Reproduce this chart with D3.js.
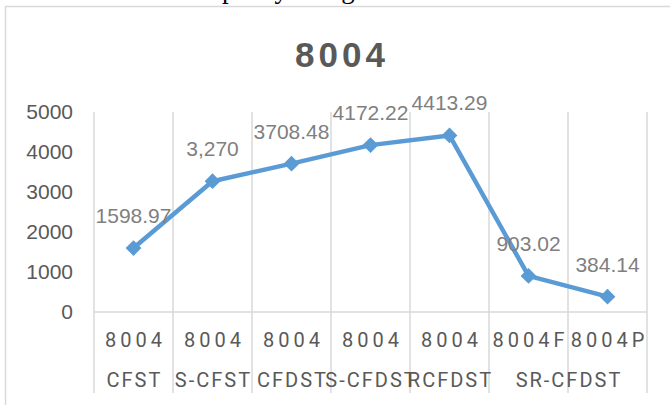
<!DOCTYPE html>
<html lang="en">
<head>
    <meta charset="UTF-8">
    <title>8004</title>
    <script src="https://d3js.org/d3.v7.min.js"></script>
    <style>
        body { margin: 0; background: #fff; }
        svg { display: block; }
        .grid line { stroke: #d9d9d9; stroke-width: 1.5px; }
        .y-axis text { font-family: "Liberation Sans", Arial, sans-serif; font-size: 21px; fill: #595959; }
        .cat text { font-family: Roboto, sans-serif; font-size: 20px; fill: #595959; }
        .cat text.l1 { letter-spacing: 4px; }
        .cat text.l2 { letter-spacing: 2px; }
        .labels text { font-family: "Liberation Sans", Arial, sans-serif; font-size: 21px; fill: #7f7f7f; }
    </style>
</head>
<body>
<svg width="670" height="405"></svg>
<script>
    // data
    var categories = ["8004 CFST", "8004 S-CFST", "8004 CFDST", "8004 S-CFDST", "8004 RCFDST", "8004F", "8004P"];
    var values = [1598.97, 3270, 3708.48, 4172.22, 4413.29, 903.02, 384.14];
    var valueLabels = ["1598.97", "3,270", "3708.48", "4172.22", "4413.29", "903.02", "384.14"];
    var catLine1 = ["8004", "8004", "8004", "8004", "8004", "8004F", "8004P"];
    // second label line, some of it shared by two categories
    var catLine2 = [
        {text: "CFST", from: 0, to: 0},
        {text: "S-CFST", from: 1, to: 1},
        {text: "CFDST", from: 2, to: 2},
        {text: "S-CFDST", from: 3, to: 3},
        {text: "RCFDST", from: 4, to: 4},
        {text: "SR-CFDST", from: 5, to: 6}
    ];
    var yTicks = [0, 1000, 2000, 3000, 4000, 5000];

    var svg = d3.select("svg");

    // text of the page above, cut off at the top
    svg.append("text")
        .attr("x", 198).attr("y", -2)
        .style("font-family", "'Liberation Serif', serif")
        .style("font-size", "27px")
        .style("fill", "#000")
        .text("capacity along");

    // chart frame
    svg.append("path")
        .attr("d", "M5.5,405V6.5H670")
        .attr("fill", "none")
        .attr("stroke", "#d9d9d9")
        .attr("stroke-width", 1.5);

    svg.append("text")
        .attr("x", 340).attr("y", 67)
        .attr("dx", 2)
        .attr("text-anchor", "middle")
        .style("font-family", "'Liberation Sans', Arial, sans-serif")
        .style("font-weight", "bold")
        .style("font-size", "35px")
        .style("letter-spacing", "4px")
        .style("fill", "#595959")
        .text("8004");

    var x = d3.scaleBand().domain(categories).range([94, 647]);
    var y = d3.scaleLinear().domain([0, 5000]).range([312, 112]);

    // vertical grid at band edges, running down through the labels
    var edges = categories.map(function(c) { return x(c); }).concat([x.range()[1]]);
    var grid = svg.append("g").attr("class", "grid");
    grid.selectAll("line.v")
        .data(edges)
        .enter().append("line")
        .attr("class", "v")
        .attr("x1", function(d) { return d; })
        .attr("x2", function(d) { return d; })
        .attr("y1", y(5000))
        .attr("y2", 393);
    grid.append("line")
        .attr("x1", x.range()[0]).attr("x2", x.range()[1])
        .attr("y1", y(0)).attr("y2", y(0));

    var yAxis = svg.append("g")
        .attr("class", "y-axis")
        .attr("transform", "translate(" + x.range()[0] + ",0)")
        .call(d3.axisLeft(y).tickValues(yTicks).tickFormat(d3.format("d")).tickSize(0).tickPadding(21));
    yAxis.select(".domain").remove();
    yAxis.selectAll("text").attr("font-family", null).attr("font-size", null);

    var cat = svg.append("g").attr("class", "cat");
    cat.selectAll("text.l1")
        .data(catLine1)
        .enter().append("text")
        .attr("class", "l1")
        .attr("x", function(d, i) { return x(categories[i]) + x.bandwidth() / 2; })
        .attr("y", 347)
        .attr("dx", 2)
        .attr("text-anchor", "middle")
        .text(function(d) { return d; });
    cat.selectAll("text.l2")
        .data(catLine2)
        .enter().append("text")
        .attr("class", "l2")
        .attr("x", function(d) {
            return (x(categories[d.from]) + x(categories[d.to]) + x.bandwidth()) / 2;
        })
        .attr("y", 387)
        .attr("dx", 1)
        .attr("text-anchor", "middle")
        .text(function(d) { return d.text; });

    var line = d3.line()
        .x(function(d, i) { return x(categories[i]) + x.bandwidth() / 2; })
        .y(function(d) { return y(d); });

    svg.append("path")
        .datum(values)
        .attr("d", line)
        .attr("fill", "none")
        .attr("stroke", "#5b9bd5")
        .attr("stroke-width", 4.5)
        .attr("stroke-linejoin", "round");

    svg.append("g")
        .selectAll("path")
        .data(values)
        .enter().append("path")
        .attr("d", d3.symbol(d3.symbolSquare, 125))
        .attr("transform", function(d, i) {
            return "translate(" + (x(categories[i]) + x.bandwidth() / 2) + "," + y(d) + ") rotate(45)";
        })
        .attr("fill", "#5b9bd5");

    svg.append("g")
        .attr("class", "labels")
        .selectAll("text")
        .data(values)
        .enter().append("text")
        .attr("x", function(d, i) { return x(categories[i]) + x.bandwidth() / 2; })
        .attr("y", function(d) { return y(d) - 25; })
        .attr("text-anchor", "middle")
        .text(function(d, i) { return valueLabels[i]; });
</script>
</body>
</html>
